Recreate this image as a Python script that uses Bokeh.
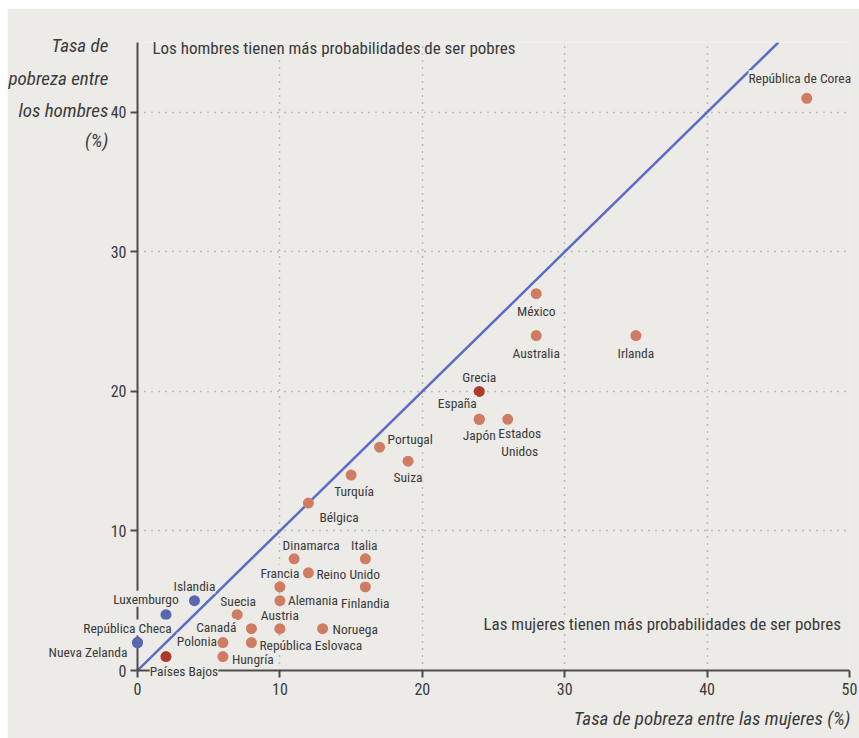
from bokeh.plotting import figure
from bokeh.models import ColumnDataSource, FixedTicker, Range1d, Spacer
from bokeh.layouts import column, row
from bokeh.core.properties import value
from bokeh.embed import file_html
from bokeh.resources import INLINE

# ---- data ----
countries = ["República de Corea", "México", "Australia", "Irlanda", "Grecia", "España",
             "Japón", "Estados\nUnidos", "Portugal", "Suiza", "Turquía", "Bélgica",
             "Dinamarca", "Italia", "Reino Unido", "Francia", "Finlandia", "Alemania",
             "Suecia", "Islandia", "Luxemburgo", "Austria", "Canadá", "Noruega",
             "Polonia", "República Eslovaca", "República Checa", "Nueva Zelanda",
             "Hungría", "Países Bajos"]
women_rate = [47, 28, 28, 35, 24, 24, 24, 26, 17, 19, 15, 12, 11, 16, 12, 10, 16, 10,
              7, 4, 2, 10, 8, 13, 6, 8, 0, 0, 6, 2]
men_rate = [41, 27, 24, 24, 20, 18, 18, 18, 16, 15, 14, 12, 8, 8, 7, 6, 6, 5,
            4, 5, 4, 3, 3, 3, 2, 2, 2, 2, 1, 1]
group = ["m", "m", "m", "m", "d", "m", "m", "m", "m", "m", "m", "m", "m", "m", "m", "m",
         "m", "m", "m", "h", "h", "m", "m", "m", "m", "m", "h", "h", "m", "d"]
parity_x = [0, 45]
parity_y = [0, 45]
x_ticks = [0, 10, 20, 30, 40, 50]
y_ticks = [0, 10, 20, 30, 40]
x_title = "Tasa de pobreza entre las mujeres (%)"
y_title = ["Tasa de", "pobreza entre", "los hombres", "(%)"]
note_men = "Los hombres tienen más probabilidades de ser pobres"
note_women = "Las mujeres tienen más probabilidades de ser pobres"

# ---- styles / label layout ----
BG = "#ECEBE7"
TXT = "#3a3a3a"
FONT = "Roboto Condensed, DejaVu Sans Condensed, Lato"
colors = {"m": "#D07C63", "d": "#AE3A2A", "h": "#5767B2"}
# (dx, dy, align, baseline) in screen px
label_layout = {
    "República de Corea": (-7, -20, "center", "middle"),
    "México": (0, 17, "center", "middle"),
    "Australia": (0, 17, "center", "middle"),
    "Irlanda": (0, 17, "center", "middle"),
    "Grecia": (0, -14, "center", "middle"),
    "España": (-22, -16, "center", "middle"),
    "Japón": (0, 16, "center", "middle"),
    "Estados\nUnidos": (12, 6, "center", "top"),
    "Portugal": (8, -8, "left", "middle"),
    "Suiza": (0, 16, "center", "middle"),
    "Turquía": (3, 16, "center", "middle"),
    "Bélgica": (11, 14, "left", "middle"),
    "Dinamarca": (17, -14, "center", "middle"),
    "Italia": (-1, -14, "center", "middle"),
    "Reino Unido": (8, 1, "left", "middle"),
    "Francia": (0, -14, "center", "middle"),
    "Finlandia": (0, 16, "center", "middle"),
    "Alemania": (8, -1, "left", "middle"),
    "Suecia": (1, -14, "center", "middle"),
    "Islandia": (0, -15, "center", "middle"),
    "Luxemburgo": (-20, -16, "center", "middle"),
    "Austria": (0, -14, "center", "middle"),
    "Canadá": (-15, -2, "right", "middle"),
    "Noruega": (10, 0, "left", "middle"),
    "Polonia": (-6, -2, "right", "middle"),
    "República Eslovaca": (8, 2, "left", "middle"),
    "República Checa": (-10, -15, "center", "middle"),
    "Nueva Zelanda": (-10, 9, "right", "middle"),
    "Hungría": (9, 2, "left", "middle"),
    "Países Bajos": (18, 14, "center", "middle"),
}

src = ColumnDataSource(dict(
    x=women_rate, y=men_rate, name=countries,
    color=[colors[g] for g in group],
    dx=[label_layout[c][0] for c in countries],
    dy=[label_layout[c][1] for c in countries],
    align=[label_layout[c][2] for c in countries],
    base=[label_layout[c][3] for c in countries],
))

p = figure(width=852, height=730, output_backend="svg", toolbar_location=None,
           x_range=Range1d(0, 50), y_range=Range1d(0, 45),
           min_border_left=130, min_border_right=10, min_border_top=34, min_border_bottom=68)
p.background_fill_color = BG
p.border_fill_color = BG
p.outline_line_color = None

for ax, ticks in ((p.xaxis, x_ticks), (p.yaxis, y_ticks)):
    ax.ticker = FixedTicker(ticks=ticks)
    ax.axis_line_color = "#4d4d4d"
    ax.axis_line_width = 2
    ax.major_tick_line_color = "#4d4d4d"
    ax.major_tick_line_width = 2
    ax.major_tick_out = 7
    ax.major_tick_in = 0
    ax.minor_tick_line_color = None
    ax.major_label_text_font = FONT
    ax.major_label_text_font_size = "16px"
    ax.major_label_text_color = TXT
p.xaxis.major_label_standoff = 5
p.yaxis.major_label_standoff = 4

for g, ticks in ((p.xgrid, x_ticks), (p.ygrid, y_ticks)):
    g.ticker = FixedTicker(ticks=ticks)
    g.grid_line_color = "#8c8c8c"
    g.grid_line_dash = "1 6"
    g.grid_line_width = 1.5

p.line(parity_x, parity_y, line_color="#5B6CC4", line_width=2.5)

p.scatter("x", "y", source=src, size=11, fill_color="color", line_color=None,
          level="overlay")

p.text("x", "y", text="name", source=src, x_offset="dx", y_offset="dy",
       text_align="align", text_baseline="base", text_font=value(FONT),
       text_font_size="13.5px", text_color=TXT, text_line_height=1.12,
       background_fill_color=BG, level="overlay")

# notes and titles (placed in data space)
p.text(x=[1.05], y=[44.6], text=[note_men], text_font=value(FONT), text_font_size="17px",
       text_color=TXT, text_baseline="middle", text_align="left", level="overlay")
p.text(x=[49.4], y=[3.3], text=[note_women], text_font=value(FONT), text_font_size="17px",
       text_color=TXT, text_baseline="middle", text_align="right", level="overlay")
p.text(x=[50.07], y=[-3.44], text=[x_title], text_font=value(FONT), text_font_size="19px",
       text_font_style="italic", text_color=TXT, text_baseline="middle",
       text_align="right", level="overlay")
p.text(x=[-2.05] * 4, y=[44.77, 42.4, 40.1, 37.95], text=y_title, text_font=value(FONT),
       text_font_size="19px", text_font_style="italic", text_color=TXT,
       text_baseline="middle", text_align="right", level="overlay")

layout = column(Spacer(height=8), row(Spacer(width=7), p))
open("out.html", "w").write(file_html(layout, INLINE))
